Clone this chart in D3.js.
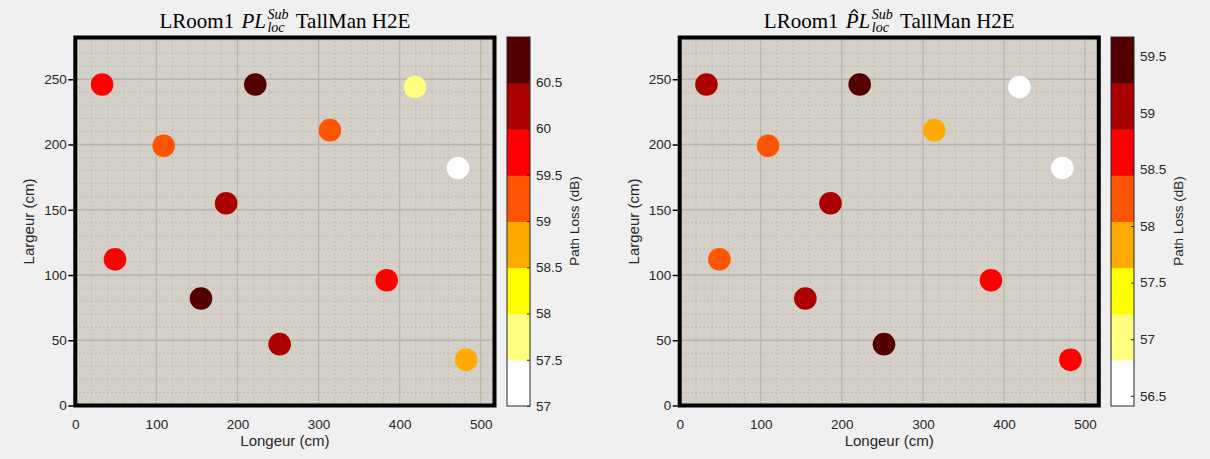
<!DOCTYPE html>
<html><head><meta charset="utf-8">
<script src="https://cdn.jsdelivr.net/npm/d3@7"></script>
<style>
body{margin:0;background:#f0f0f0;}
svg{display:block;}
</style></head>
<body>
<svg id="chart" width="1210" height="459"></svg>
<script>
// ---- data ----
const xPos = [33, 222, 419, 314, 109, 472, 186, 49, 384, 155, 252, 482];
const yPos = [246, 246, 244, 211, 199, 182, 155, 112, 96, 82, 47, 35];
const plMeasured = [59.8, 60.99, 57.7, 59.3, 59.2, 57.0, 60.2, 59.7, 59.6, 60.7, 60.3, 58.8];
const plEstimated = [59.0, 59.67, 56.41, 57.9, 58.2, 56.6, 59.1, 58.3, 58.6, 59.0, 59.5, 58.7];
const xTicks = [0, 100, 200, 300, 400, 500];
const yTicks = [0, 50, 100, 150, 200, 250];
const cbTicksLeft = [57, 57.5, 58, 58.5, 59, 59.5, 60, 60.5];
const cbTicksRight = [56.5, 57, 57.5, 58, 58.5, 59, 59.5];
const palette = ["#ffffff", "#ffff80", "#ffff00", "#ffaa00", "#ff5500", "#ff0000", "#aa0000", "#550000"];

const svg = d3.select("#chart");
const FONT = "'Liberation Sans', Arial, Helvetica, sans-serif";
const SERIF = "'Liberation Serif', 'DejaVu Serif', serif";

function panel(opts){
  const {x0, x1, cbX, values, cbTicks, hat} = opts;
  const top = 37.5, bottom = 405.5;
  const xs = d3.scaleLinear().domain([0, 517]).range([x0, x1]);
  const ys = d3.scaleLinear().domain([0, 282]).range([bottom, top]);
  const g = svg.append("g");

  g.append("rect").attr("x", x0).attr("y", top).attr("width", x1 - x0).attr("height", bottom - top)
    .attr("fill", "#d4d0c8");

  // minor grid
  const xMinor = d3.range(20, 517, 20).filter(v => v % 100 !== 0);
  const yMinor = d3.range(10, 282, 10).filter(v => v % 50 !== 0);
  g.selectAll(".xm").data(xMinor).join("line")
    .attr("x1", d => xs(d)).attr("x2", d => xs(d)).attr("y1", top).attr("y2", bottom)
    .attr("stroke", "#aaa7a0").attr("stroke-width", 1).attr("stroke-dasharray", "1,3");
  g.selectAll(".ym").data(yMinor).join("line")
    .attr("y1", d => ys(d)).attr("y2", d => ys(d)).attr("x1", x0).attr("x2", x1)
    .attr("stroke", "#aaa7a0").attr("stroke-width", 1).attr("stroke-dasharray", "1,3");
  // major grid
  g.selectAll(".xg").data(xTicks.slice(1)).join("line")
    .attr("x1", d => xs(d)).attr("x2", d => xs(d)).attr("y1", top).attr("y2", bottom)
    .attr("stroke", "#b8b5ae").attr("stroke-width", 1.3);
  g.selectAll(".yg").data(yTicks.slice(1)).join("line")
    .attr("y1", d => ys(d)).attr("y2", d => ys(d)).attr("x1", x0).attr("x2", x1)
    .attr("stroke", "#b8b5ae").attr("stroke-width", 1.3);

  // points
  const ext = d3.extent(values);
  const color = d3.scaleQuantize().domain(ext).range(palette);
  g.selectAll(".pt").data(values).join("circle")
    .attr("cx", (d, i) => xs(xPos[i])).attr("cy", (d, i) => ys(yPos[i]))
    .attr("r", 11.3).attr("fill", d => color(d));

  // box
  g.append("rect").attr("x", x0).attr("y", top).attr("width", x1 - x0).attr("height", bottom - top)
    .attr("fill", "none").attr("stroke", "#000").attr("stroke-width", 4);

  // axes
  const xa = g.append("g").attr("transform", `translate(0,${bottom + 2})`)
    .call(d3.axisBottom(xs).tickValues(xTicks).tickSize(0).tickPadding(12));
  const ya = g.append("g").attr("transform", `translate(${x0 - 2},0)`)
    .call(d3.axisLeft(ys).tickValues(yTicks).tickSize(5).tickPadding(1.5));
  [xa, ya].forEach(a => {
    a.select(".domain").remove();
    a.selectAll("text").attr("font-family", FONT).attr("font-size", 13.5).attr("fill", "#262626");
    a.selectAll("line").attr("stroke", "#000").attr("stroke-width", 1.5);
  });

  g.append("text").attr("x", (x0 + x1) / 2).attr("y", 446).attr("text-anchor", "middle")
    .attr("font-family", FONT).attr("font-size", 15).attr("fill", "#262626").text("Longeur (cm)");
  g.append("text").attr("transform", `translate(${x0 - 41},${(top + bottom) / 2}) rotate(-90)`)
    .attr("text-anchor", "middle").attr("font-family", FONT).attr("font-size", 15)
    .attr("fill", "#262626").text("Largeur (cm)");

  // colorbar
  const cbW = 23;
  const cs = d3.scaleLinear().domain(ext).range([406, 37]);
  const bands = color.range().map(c => color.invertExtent(c));
  g.selectAll(".cb").data(bands).join("rect")
    .attr("x", cbX).attr("width", cbW)
    .attr("y", d => cs(d[1])).attr("height", d => cs(d[0]) - cs(d[1]) + 0.5)
    .attr("fill", (d, i) => palette[i]);
  g.append("rect").attr("x", cbX).attr("y", 37).attr("width", cbW).attr("height", 369)
    .attr("fill", "none").attr("stroke", "#262626").attr("stroke-width", 1);
  const ca = g.append("g").attr("transform", `translate(${cbX + cbW},0)`)
    .call(d3.axisRight(cs).tickValues(cbTicks).tickSize(-3).tickPadding(6).tickFormat(d3.format("")));
  ca.select(".domain").remove();
  ca.selectAll("line").attr("stroke", "#262626");
  ca.selectAll("text").attr("font-family", FONT).attr("font-size", 13.5).attr("fill", "#262626");
  g.append("text").attr("transform", `translate(${cbX + 72},${221}) rotate(-90)`)
    .attr("text-anchor", "middle").attr("font-family", FONT).attr("font-size", 13.5)
    .attr("fill", "#262626").text("Path Loss (dB)");

  // title
  const tg = g.append("g");
  const base = 28, fs = 21, ss = 14;
  let cx = 0;
  const t1 = tg.append("text").attr("x", cx).attr("y", base).attr("font-family", SERIF).attr("font-size", fs)
    .text("LRoom1\u00A0");
  cx += t1.node().getComputedTextLength() + 2;
  const t2 = tg.append("text").attr("x", cx).attr("y", base).attr("font-family", SERIF).attr("font-size", fs)
    .attr("font-style", "italic").text("PL");
  if (hat) {
    const px = cx + 8.5;
    tg.append("path").attr("d", `M${px - 3.5},${base - 15} L${px},${base - 18.5} L${px + 3.5},${base - 15}`)
      .attr("fill", "none").attr("stroke", "#000").attr("stroke-width", 1.1);
  }
  cx += t2.node().getComputedTextLength() + 1.5;
  const t3 = tg.append("text").attr("x", cx).attr("y", base - 9).attr("font-family", SERIF).attr("font-size", ss)
    .attr("font-style", "italic").text("Sub");
  const t4 = tg.append("text").attr("x", cx).attr("y", base + 4).attr("font-family", SERIF).attr("font-size", ss)
    .attr("font-style", "italic").text("loc");
  cx += Math.max(t3.node().getComputedTextLength(), t4.node().getComputedTextLength()) + 2;
  const t5 = tg.append("text").attr("x", cx).attr("y", base).attr("font-family", SERIF).attr("font-size", fs)
    .text("\u00A0TallMan H2E");
  cx += t5.node().getComputedTextLength();
  tg.selectAll("text").attr("fill", "#000");
  tg.attr("transform", `translate(${(x0 + x1) / 2 - cx / 2},0)`);
}

panel({x0: 75.3, x1: 494.5, cbX: 507, values: plMeasured, cbTicks: cbTicksLeft, hat: false});
panel({x0: 679.7, x1: 1098.8, cbX: 1111, values: plEstimated, cbTicks: cbTicksRight, hat: true});
</script>
</body></html>
